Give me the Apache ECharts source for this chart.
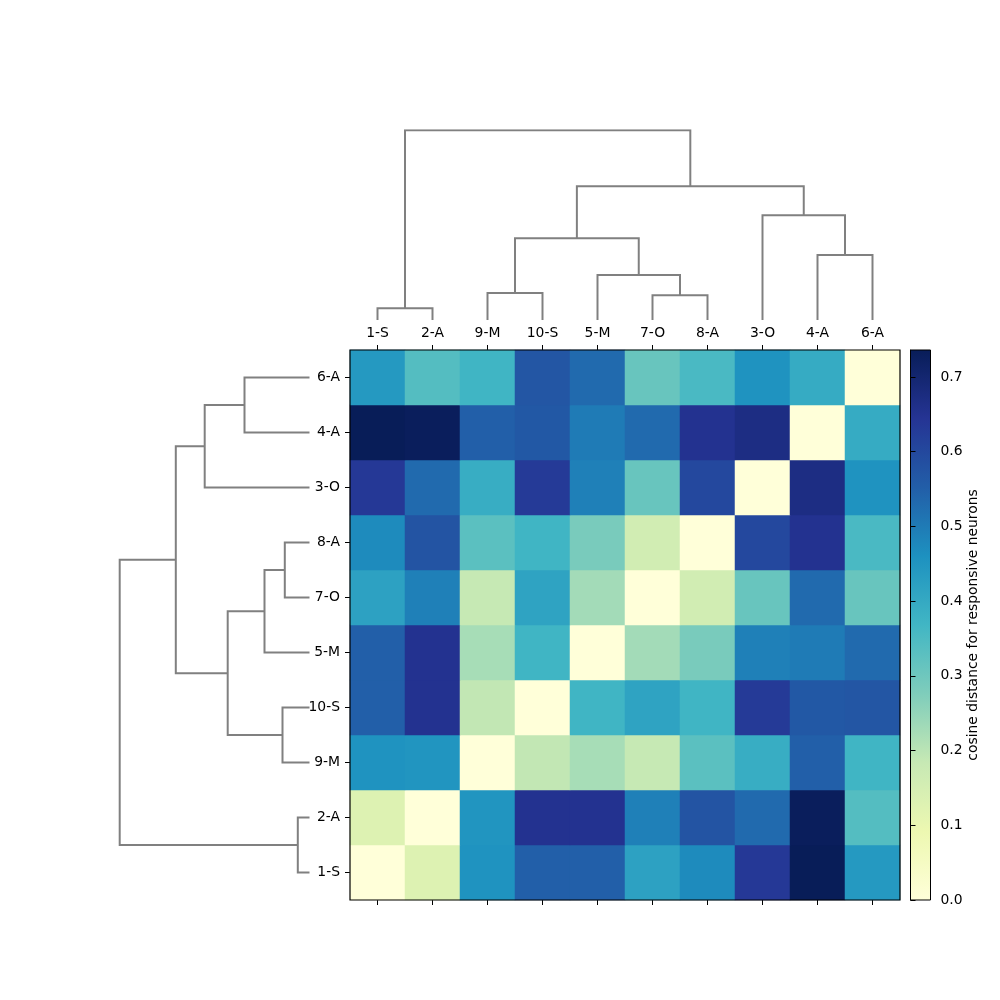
<!DOCTYPE html>
<html><head><meta charset="utf-8">
<script src="https://cdn.jsdelivr.net/npm/echarts@6/dist/echarts.min.js"></script>
<style>html,body{margin:0;padding:0;background:#fff}#c{width:1000px;height:1000px}</style>
</head><body><div id="c"></div>
<script>
// Leaf order (left→right for columns, bottom→top for rows)
const labels = ['1-S','2-A','9-M','10-S','5-M','7-O','8-A','3-O','4-A','6-A'];

// Cosine distance matrix rows, in leaf order
const row_1S  = [0, 0.13, 0.455, 0.55, 0.55, 0.42, 0.47, 0.635, 0.736, 0.44];
const row_2A  = [0.13, 0, 0.45, 0.65, 0.65, 0.49, 0.575, 0.53, 0.73, 0.34];
const row_9M  = [0.455, 0.45, 0, 0.19, 0.225, 0.185, 0.33, 0.39, 0.55, 0.37];
const row_10S = [0.55, 0.65, 0.19, 0, 0.37, 0.415, 0.37, 0.63, 0.565, 0.57];
const row_5M  = [0.55, 0.65, 0.225, 0.37, 0, 0.23, 0.285, 0.49, 0.50, 0.53];
const row_7O  = [0.42, 0.49, 0.185, 0.415, 0.23, 0, 0.16, 0.31, 0.53, 0.31];
const row_8A  = [0.47, 0.575, 0.33, 0.37, 0.285, 0.16, 0, 0.60, 0.65, 0.355];
const row_3O  = [0.635, 0.53, 0.39, 0.63, 0.49, 0.31, 0.60, 0, 0.67, 0.455];
const row_4A  = [0.736, 0.73, 0.55, 0.565, 0.50, 0.53, 0.65, 0.67, 0, 0.395];
const row_6A  = [0.44, 0.34, 0.37, 0.57, 0.53, 0.31, 0.355, 0.455, 0.395, 0];
const matrix = [row_1S, row_2A, row_9M, row_10S, row_5M, row_7O, row_8A, row_3O, row_4A, row_6A];

// Linkage (scipy style): [clusterA, clusterB, height]; new clusters numbered from 10
const linkage = [
  [0, 1, 0.117],
  [5, 6, 0.247],
  [2, 3, 0.27],
  [4, 11, 0.45],
  [8, 9, 0.65],
  [12, 13, 0.818],
  [7, 14, 1.048],
  [15, 16, 1.337],
  [10, 17, 1.898]
];
const linkMax = 1.898;

const colorbarTicks = [0, 0.1, 0.2, 0.3, 0.4, 0.5, 0.6, 0.7];
const vmin = 0, vmax = 0.736;
const ylgnbu = ['#ffffd9','#edf8b1','#c7e9b4','#7fcdbb','#41b6c4','#1d91c0','#225ea8','#253494','#081d58'];
const cbTitle = 'cosine distance for responsive neurons';

function buildLinks(Z, n) {
  const pos = [], h = [], segs = [];
  for (let i = 0; i < n; i++) { pos[i] = i + 0.5; h[i] = 0; }
  Z.forEach((z, k) => {
    const [a, b, d] = z;
    segs.push([[pos[a], h[a]], [pos[a], d], [pos[b], d], [pos[b], h[b]]]);
    pos[n + k] = (pos[a] + pos[b]) / 2;
    h[n + k] = d;
  });
  return segs;
}
const segs = buildLinks(linkage, labels.length);

const heatData = [];
matrix.forEach((row, i) => row.forEach((v, j) => heatData.push([j, i, v])));

const FONT = 'DejaVu Sans';
const FS = 13.9;
const chart = echarts.init(document.getElementById('c'), null, {renderer: 'canvas'});
const tick = {show: true, length: 5, alignWithLabel: true, lineStyle: {color: '#000', width: 1}};

chart.setOption({
  animation: false,
  backgroundColor: '#fff',
  textStyle: {fontFamily: FONT},
  grid: [
    {left: 350, top: 350, width: 550, height: 550},
    {left: 350, top: 320 - 189.8, width: 550, height: 189.8},
    {left: 309.5 - 189.8, top: 350, width: 189.8, height: 550},
    {left: 910.5, top: 350, width: 20, height: 550}
  ],
  xAxis: [
    {type: 'category', gridIndex: 0, data: labels, position: 'bottom', axisLine: {show: false}, axisTick: tick, axisLabel: {show: false}, splitLine: {show: false}},
    {type: 'category', gridIndex: 0, data: labels, position: 'top', axisLine: {show: false}, axisTick: tick,
     axisLabel: {show: true, margin: 10, color: '#000', fontSize: FS, fontFamily: FONT, interval: 0}, splitLine: {show: false}},
    {type: 'value', gridIndex: 1, min: 0, max: labels.length, show: false},
    {type: 'value', gridIndex: 2, min: 0, max: linkMax, inverse: true, show: false},
    {type: 'value', gridIndex: 3, min: 0, max: 1, show: false}
  ],
  yAxis: [
    {type: 'category', gridIndex: 0, data: labels, position: 'left', axisLine: {show: false}, axisTick: tick,
     axisLabel: {show: true, margin: 10, color: '#000', fontSize: FS, fontFamily: FONT, interval: 0}, splitLine: {show: false}},
    {type: 'value', gridIndex: 1, min: 0, max: linkMax, show: false},
    {type: 'value', gridIndex: 2, min: 0, max: labels.length, show: false},
    {type: 'value', gridIndex: 3, min: vmin, max: vmax, position: 'right',
     axisLine: {show: true, lineStyle: {color: '#000', width: 1}},
     axisTick: {show: true, length: 5, customValues: colorbarTicks, lineStyle: {color: '#000'}},
     axisLabel: {show: true, customValues: colorbarTicks, margin: 10, color: '#000', fontSize: FS, fontFamily: FONT,
                 formatter: v => Number(v).toFixed(1)},
     splitLine: {show: false},
     name: cbTitle, nameLocation: 'middle', nameRotate: 90, nameGap: 36,
     nameTextStyle: {color: '#000', fontSize: FS, fontFamily: FONT}}
  ],
  visualMap: {show: false, type: 'continuous', min: vmin, max: vmax, dimension: 2, seriesIndex: 0, inRange: {color: ylgnbu}},
  graphic: [
    {
      type: 'rect', z: -1,
      shape: {x: 910.5, y: 350, width: 20, height: 550},
      style: {
        fill: new echarts.graphic.LinearGradient(0, 1, 0, 0, ylgnbu.map((c, i) => ({offset: i / (ylgnbu.length - 1), color: c}))),
        stroke: '#000', lineWidth: 1
      }
    },
    {
      type: 'rect', z: 100, silent: true,
      shape: {x: 350, y: 350, width: 550, height: 550},
      style: {fill: 'none', stroke: '#000', lineWidth: 1.2}
    }
  ],
  series: [
    {type: 'heatmap', xAxisIndex: 0, yAxisIndex: 0, data: heatData, itemStyle: {borderWidth: 0}, emphasis: {disabled: true}},
    {type: 'lines', coordinateSystem: 'cartesian2d', xAxisIndex: 2, yAxisIndex: 1, polyline: true, silent: true,
     lineStyle: {color: '#808080', width: 2, opacity: 1},
     data: segs.map(c => ({coords: c}))},
    {type: 'lines', coordinateSystem: 'cartesian2d', xAxisIndex: 3, yAxisIndex: 2, polyline: true, silent: true,
     lineStyle: {color: '#808080', width: 2, opacity: 1},
     data: segs.map(c => ({coords: c.map(p => [p[1], p[0]])}))}
  ]
});
</script></body></html>
